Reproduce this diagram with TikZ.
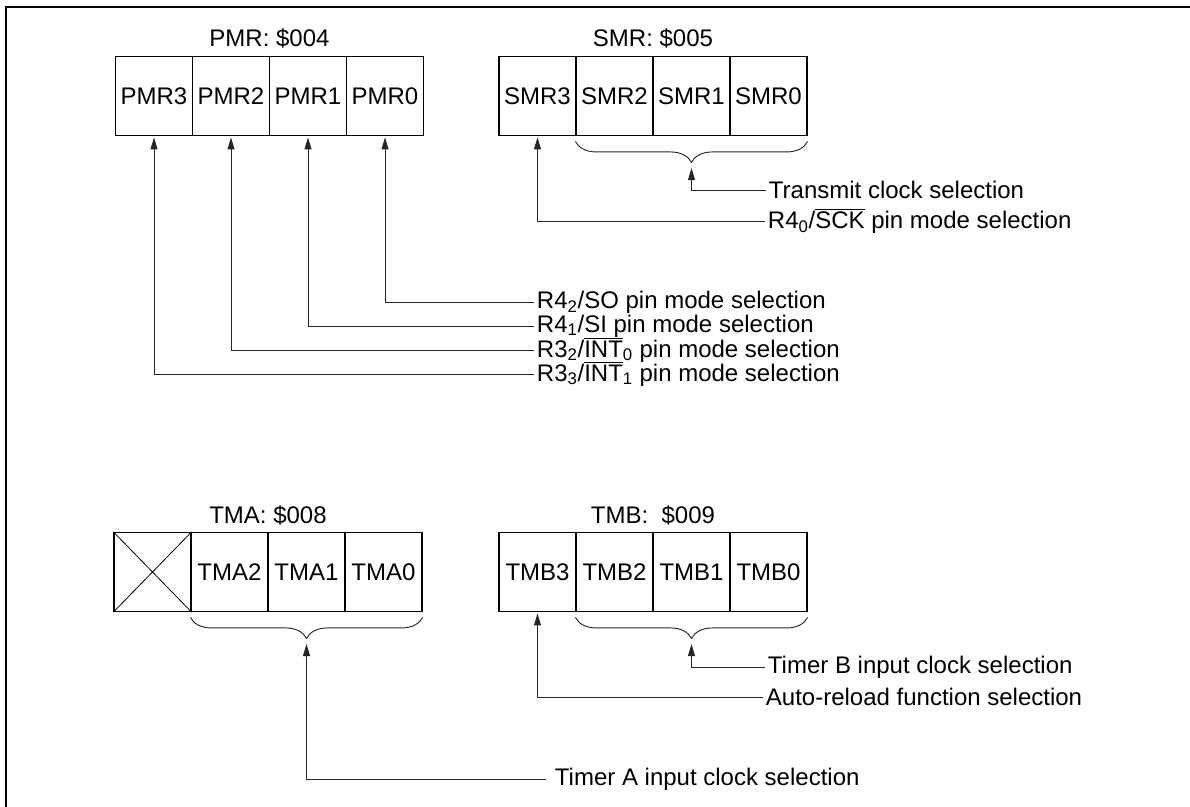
\documentclass[tikz,border=0pt]{standalone}
\usepackage{fontspec}
\usepackage{graphicx}
\setmainfont{Liberation Sans}
\usetikzlibrary{arrows.meta,decorations.pathreplacing,calc}
\newcommand{\ovl}[1]{$\overline{\mbox{#1}}$}
\tikzset{
  cell/.style={draw, line width=0.9pt, minimum width=57.75pt, minimum height=59.25pt, inner sep=0pt, font=\fontsize{18pt}{21pt}\selectfont},
  regtitle/.style={inner sep=0pt, font=\fontsize{18pt}{21pt}\selectfont},
  lab/.style={anchor=west, inner sep=2pt, font=\fontsize{18pt}{21pt}\selectfont},
  conn/.style={line width=0.7pt, black!85, -{Triangle[length=9pt,width=5.25pt]}, shorten >=1pt},
  bracedeco/.style={line width=0.7pt, black!85, decorate, decoration={brace, mirror, amplitude=15.75pt}},
  frameline/.style={line width=1.4pt}
}
\begin{document}
\begin{tikzpicture}[x=0.75pt,y=-0.75pt]
\useasboundingbox (0,0) rectangle (1190,807);
\draw[frameline] (6,807) -- (6,7) -- (1190,7);

% PMR
\node[regtitle] (pmrt) at (269.5,38) {PMR: \$004};
\node[cell] (pmr3) at (154,96) {PMR3};
\node[cell] (pmr2) at (231,96) {PMR2};
\node[cell] (pmr1) at (308,96) {PMR1};
\node[cell] (pmr0) at (385,96) {PMR0};

% SMR
\node[regtitle] (smrt) at (653,38) {SMR: \$005};
\node[cell] (smr3) at (537.5,96) {SMR3};
\node[cell] (smr2) at (614.5,96) {SMR2};
\node[cell] (smr1) at (691.5,96) {SMR1};
\node[cell] (smr0) at (768.5,96) {SMR0};

% TMA
\node[regtitle] (tmat) at (268,515) {TMA: \$008};
\node[cell] (tmax) at (152.5,572) {};
\draw[line width=0.6pt] (tmax.north west) -- (tmax.south east) (tmax.north east) -- (tmax.south west);
\node[cell] (tma2) at (229.5,572) {TMA2};
\node[cell] (tma1) at (306.5,572) {TMA1};
\node[cell] (tma0) at (383.5,572) {TMA0};

% TMB
\node[regtitle] (tmbt) at (653,515) {TMB:\ \ \$009};
\node[cell] (tmb3) at (537.5,572) {TMB3};
\node[cell] (tmb2) at (614.5,572) {TMB2};
\node[cell] (tmb1) at (691.5,572) {TMB1};
\node[cell] (tmb0) at (768.5,572) {TMB0};

% braces
\draw[bracedeco] ([yshift=-4pt]smr2.south west) -- ([yshift=-4pt]smr0.south east);
\coordinate (smrtip) at ([yshift=-23pt]$(smr2.south west)!0.5!(smr0.south east)$);
\draw[bracedeco] ([yshift=-4pt]tma2.south west) -- ([yshift=-4pt]tma0.south east);
\coordinate (tmatip) at ([yshift=-23pt]$(tma2.south west)!0.5!(tma0.south east)$);
\draw[bracedeco] ([yshift=-4pt]tmb2.south west) -- ([yshift=-4pt]tmb0.south east);
\coordinate (tmbtip) at ([yshift=-23pt]$(tmb2.south west)!0.5!(tmb0.south east)$);

% SMR labels
\node[lab] (ltx) at (766,190) {Transmit clock selection};
\node[lab] (lsck) at (765,221) {R4\textsubscript{0}/\ovl{SCK} pin mode selection};
\draw[conn] (ltx.west) -| (smrtip);
\draw[conn] (lsck.west) -| (smr3.south);

% PMR labels
\node[lab] (l0) at (534,302) {R4\textsubscript{2}/SO pin mode selection};
\node[lab] (l1) at (534,326) {R4\textsubscript{1}/SI pin mode selection};
\node[lab] (l2) at (534,350) {R3\textsubscript{2}/\ovl{INT}\textsubscript{0} pin mode selection};
\node[lab] (l3) at (534,374) {R3\textsubscript{3}/\ovl{INT}\textsubscript{1} pin mode selection};
\draw[conn] (l0.west) -| (pmr0.south);
\draw[conn] (l1.west) -| (pmr1.south);
\draw[conn] (l2.west) -| (pmr2.south);
\draw[conn] (l3.west) -| (pmr3.south);

% TMB labels
\node[lab] (ltb) at (765,667) {Timer B input clock selection};
\node[lab] (lar) at (763,697) {Auto-reload function selection};
\draw[conn] (ltb.west) -| (tmbtip);
\draw[conn] (lar.west) -| (tmb3.south);

% TMA label
\node[lab, inner xsep=6.5pt] (lta) at (546,779) {Timer A input clock selection};
\draw[conn] (lta.west) -| (tmatip);
\end{tikzpicture}
\end{document}
